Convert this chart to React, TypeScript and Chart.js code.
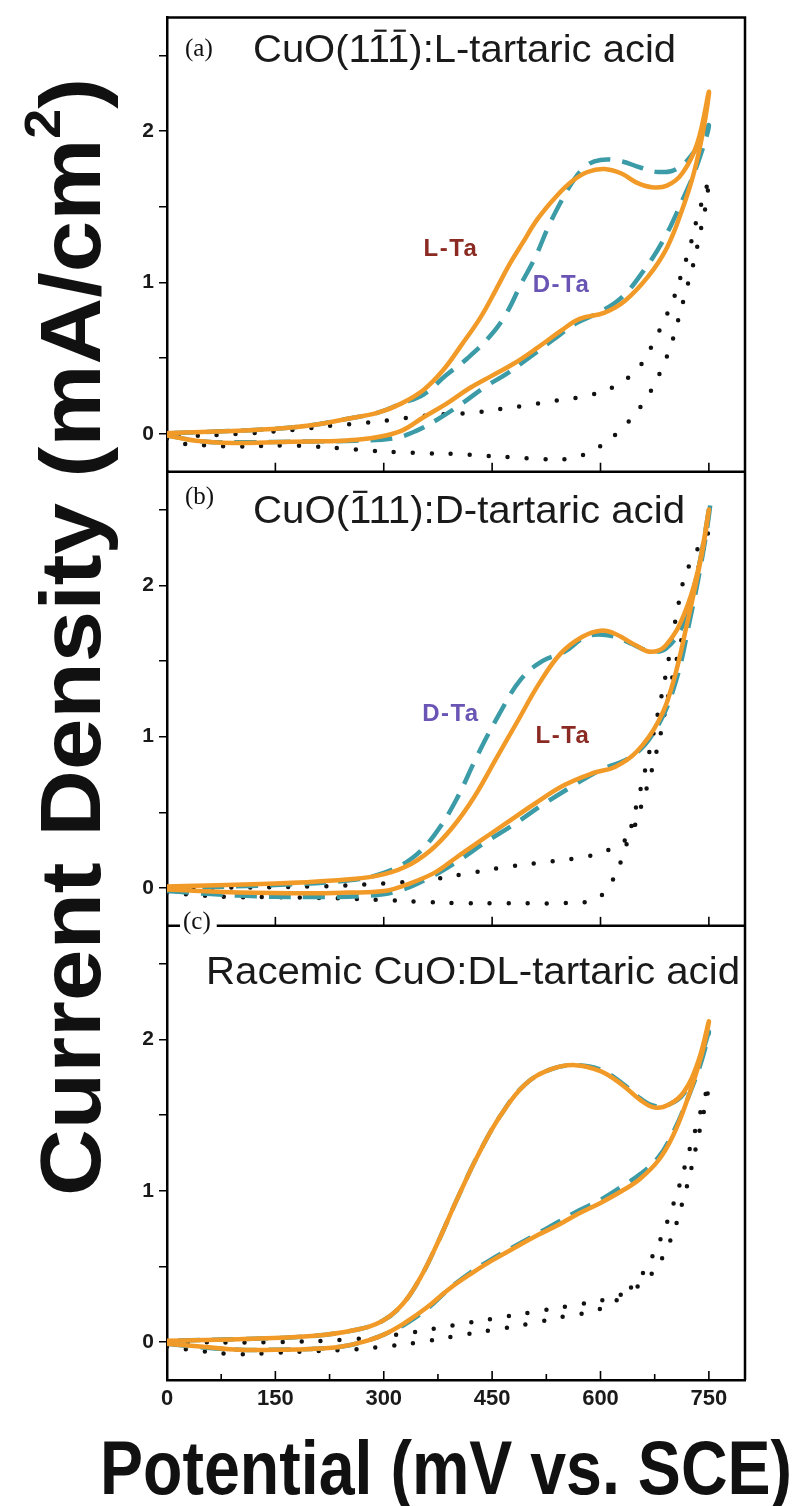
import React, { useEffect, useRef } from 'react';
import { Chart, registerables } from 'chart.js';

Chart.register(...registerables);

type Pt = [number, number];

// ---------- axis / label data ----------
const xTickValues = [0, 150, 300, 450, 600, 750];
const xMinorTickValues = [75, 225, 375, 525, 675];
const yTickValues = [0, 0.5, 1, 1.5, 2, 2.5];
const panelTitles = ['CuO(111):L-tartaric acid', 'CuO(111):D-tartaric acid', 'Racemic CuO:DL-tartaric acid'];
// indices of the Miller-index digits that carry an overbar
const titleBars: number[][] = [[5, 6], [4], []];
const panelTags = ['(a)', '(b)', '(c)'];
const xAxisTitle = 'Potential (mV vs. SCE)';
const yAxisTitle = 'Current Density (mA/cm';

// ---------- panel (a): CuO(1-1-1) ----------
const aLTa: Pt[] = [
  [0, -0.01], [40, -0.045], [90, -0.06], [145, -0.055], [200, -0.05], [250, -0.043],
  [290, -0.022], [325, 0.022], [355, 0.11], [387, 0.2], [418, 0.3], [450, 0.385],
  [482, 0.47], [513, 0.57], [545, 0.68], [571, 0.76], [605, 0.8], [634, 0.88],
  [666, 1.04], [692, 1.23], [713, 1.48], [729, 1.72], [742, 2.0], [750, 2.26],
  [734, 1.92], [713, 1.72], [692, 1.64], [671, 1.63], [650, 1.66], [629, 1.72],
  [605, 1.75], [582, 1.73], [561, 1.67], [539, 1.57], [513, 1.42], [492, 1.26],
  [474, 1.12], [455, 0.95], [434, 0.77], [408, 0.59], [382, 0.42], [355, 0.29],
  [324, 0.2], [292, 0.14], [250, 0.1], [197, 0.055], [145, 0.033], [66, 0.015], [0, 0.005],
];
const aDTa: Pt[] = [
  [0, -0.01], [50, -0.05], [100, -0.055], [200, -0.05], [260, -0.045], [313, -0.03],
  [345, 0.02], [376, 0.1], [408, 0.2], [440, 0.31], [471, 0.4], [503, 0.51],
  [534, 0.62], [566, 0.73], [597, 0.8], [629, 0.9], [660, 1.08], [687, 1.28],
  [713, 1.54], [734, 1.78], [750, 2.04],
  [729, 1.86], [705, 1.75], [680, 1.73], [655, 1.76], [629, 1.8], [600, 1.81],
  [580, 1.77], [562, 1.67], [546, 1.54], [528, 1.37], [510, 1.17], [490, 0.99],
  [469, 0.79], [446, 0.64], [416, 0.5], [387, 0.39], [355, 0.26], [324, 0.2],
  [292, 0.14], [250, 0.1], [197, 0.055], [145, 0.033], [66, 0.015], [0, 0.005],
];
const aBlank: Pt[] = [
  [0, -0.03], [24, -0.066], [63, -0.077], [100, -0.084], [163, -0.077], [203, -0.084],
  [242, -0.095], [279, -0.11], [318, -0.12], [358, -0.128], [397, -0.132], [434, -0.143],
  [474, -0.154], [513, -0.165], [553, -0.165], [591, -0.106], [629, 0.033], [660, 0.21],
  [682, 0.4], [697, 0.58], [708, 0.76], [718, 0.94], [729, 1.13], [737, 1.31],
  [745, 1.49], [750, 1.68],
  [745, 1.6], [734, 1.43], [724, 1.24], [713, 1.07], [700, 0.88], [676, 0.63],
  [653, 0.44], [618, 0.31], [579, 0.25], [539, 0.22], [500, 0.19], [463, 0.165],
  [424, 0.14], [384, 0.13], [347, 0.115], [308, 0.09], [268, 0.07], [229, 0.055],
  [189, 0.033], [100, 0.0], [0, -0.02],
];

// ---------- panel (b): CuO(-111) ----------
const bLTa: Pt[] = [
  [0, -0.01], [100, -0.03], [200, -0.035], [250, -0.03], [300, -0.02], [330, 0.02],
  [370, 0.1], [400, 0.2], [430, 0.3], [470, 0.43], [510, 0.56], [550, 0.68],
  [590, 0.76], [620, 0.8], [650, 0.9], [680, 1.1], [700, 1.35], [720, 1.75],
  [740, 2.2], [750, 2.5],
  [735, 2.1], [715, 1.8], [690, 1.6], [670, 1.56], [650, 1.6], [620, 1.68],
  [600, 1.7], [575, 1.66], [545, 1.55], [515, 1.35], [485, 1.1], [455, 0.85],
  [425, 0.6], [395, 0.4], [365, 0.25], [330, 0.14], [290, 0.08], [230, 0.05],
  [150, 0.03], [0, 0.01],
];
const bDTa: Pt[] = [
  [0, -0.02], [100, -0.05], [200, -0.06], [280, -0.05], [320, -0.02], [360, 0.06],
  [400, 0.17], [440, 0.3], [480, 0.42], [520, 0.55], [560, 0.67], [600, 0.78],
  [640, 0.86], [670, 1.0], [700, 1.3], [725, 1.8], [745, 2.3], [752, 2.55],
  [735, 2.1], [715, 1.75], [690, 1.58], [665, 1.57], [640, 1.62], [610, 1.67],
  [580, 1.66], [550, 1.56], [520, 1.5], [490, 1.38], [460, 1.15], [430, 0.88],
  [400, 0.58], [370, 0.35], [340, 0.2], [300, 0.1], [250, 0.05], [150, 0.02], [0, 0],
];
const bBlank: Pt[] = [
  [0, -0.03], [50, -0.05], [100, -0.06], [150, -0.06], [200, -0.065], [250, -0.07],
  [300, -0.08], [350, -0.09], [400, -0.1], [450, -0.1], [500, -0.1], [550, -0.1],
  [590, -0.08], [610, 0.0], [630, 0.2], [650, 0.55], [670, 0.95], [690, 1.4],
  [705, 1.8], [720, 2.1], [750, 2.35],
  [740, 2.2], [725, 1.9], [710, 1.6], [695, 1.3], [680, 0.95], [660, 0.6],
  [640, 0.35], [610, 0.25], [570, 0.2], [520, 0.17], [470, 0.14], [420, 0.1],
  [370, 0.06], [300, 0.03], [200, 0.01], [0, 0],
];

// ---------- panel (c): racemic CuO ----------
const cLTa: Pt[] = [
  [0, -0.01], [50, -0.03], [100, -0.05], [150, -0.05], [200, -0.045], [240, -0.03],
  [270, 0.0], [300, 0.05], [330, 0.13], [360, 0.23], [390, 0.35], [420, 0.45],
  [450, 0.54], [480, 0.62], [510, 0.7], [540, 0.77], [570, 0.85], [600, 0.92],
  [630, 1.0], [655, 1.08], [680, 1.2], [700, 1.36], [720, 1.6], [740, 1.9], [750, 2.12],
  [735, 1.85], [715, 1.65], [695, 1.57], [675, 1.55], [655, 1.6], [630, 1.7],
  [600, 1.79], [565, 1.83], [530, 1.8], [495, 1.7], [462, 1.5], [432, 1.25],
  [402, 0.95], [374, 0.65], [350, 0.42], [326, 0.25], [298, 0.14], [260, 0.08],
  [200, 0.04], [100, 0.02], [0, 0.01],
];
const cDTa: Pt[] = [
  [0, -0.01], [50, -0.035], [100, -0.05], [150, -0.05], [200, -0.045], [240, -0.03],
  [270, 0.0], [300, 0.05], [330, 0.12], [360, 0.22], [390, 0.35], [420, 0.46],
  [450, 0.55], [480, 0.63], [510, 0.71], [540, 0.79], [570, 0.87], [600, 0.94],
  [630, 1.03], [655, 1.11], [680, 1.22], [700, 1.38], [720, 1.6], [740, 1.86], [750, 2.05],
  [735, 1.83], [715, 1.64], [695, 1.57], [675, 1.56], [655, 1.61], [630, 1.71],
  [600, 1.8], [565, 1.83], [530, 1.8], [495, 1.7], [462, 1.5], [432, 1.25],
  [402, 0.95], [374, 0.65], [350, 0.42], [326, 0.25], [298, 0.14], [260, 0.08],
  [200, 0.04], [100, 0.02], [0, 0.01],
];
const cBlank: Pt[] = [
  [0, -0.03], [50, -0.06], [100, -0.08], [150, -0.07], [200, -0.06], [250, -0.05],
  [300, -0.03], [350, 0.0], [400, 0.04], [450, 0.08], [500, 0.12], [550, 0.17],
  [600, 0.22], [640, 0.35], [670, 0.55], [700, 0.9], [725, 1.3], [750, 1.7],
  [735, 1.35], [715, 0.95], [690, 0.6], [660, 0.4], [620, 0.3], [570, 0.25],
  [520, 0.21], [470, 0.17], [420, 0.13], [370, 0.09], [320, 0.05], [260, 0.02],
  [150, 0.0], [0, 0],
];

// labels placed in data coordinates: [panel, potential, current, text, colour]
const curveLabels: [number, number, number, string, string][] = [
  [0, 393, 1.22, 'L-Ta', '#8a2a22'],
  [0, 546, 0.98, 'D-Ta', '#6a55b5'],
  [1, 393, 1.15, 'D-Ta', '#6a55b5'],
  [1, 548, 1.0, 'L-Ta', '#8a2a22'],
];

const ORANGE = '#f29a27';
const TEAL = '#3b9ba6';
const BLACK = '#111111';
const AXES = ['yA', 'yB', 'yC'];

const SANS = '"Liberation Sans", Arial, sans-serif';
const NARROW = '"Liberation Sans Narrow", "Liberation Sans", Arial, sans-serif';
const SERIF = '"Liberation Serif", "Times New Roman", serif';

function toXY(p: Pt[]) {
  return p.map(([x, y]) => ({ x, y }));
}

function lineDs(label: string, pts: Pt[], axis: string, kind: 'solid' | 'dash' | 'dot') {
  const base: any = {
    label,
    data: toXY(pts),
    yAxisID: axis,
    xAxisID: 'x',
    showLine: true,
    pointRadius: 0,
    pointHoverRadius: 0,
    tension: 0.4,
    fill: false,
  };
  if (kind === 'solid') {
    return { ...base, borderColor: ORANGE, borderWidth: 4.5, order: 1 };
  }
  if (kind === 'dash') {
    return { ...base, borderColor: TEAL, borderWidth: 4.5, borderDash: [22, 12], order: 2 };
  }
  return {
    ...base,
    borderColor: BLACK,
    borderWidth: 4.5,
    borderDash: [0, 19],
    borderCapStyle: 'round',
    order: 3,
  };
}

function yScale() {
  return {
    type: 'linear',
    position: 'left',
    stack: 'cv',
    stackWeight: 1,
    min: -0.25,
    max: 2.75,
    offset: false,
    afterBuildTicks: (s: any) => {
      s.ticks = yTickValues.map((v) => ({ value: v }));
    },
    afterFit: (s: any) => {
      s.width = 167;
    },
    grid: {
      display: true,
      drawOnChartArea: false,
      drawTicks: true,
      tickLength: 8,
      color: '#000',
      lineWidth: 1.5,
    },
    border: { display: true, color: '#000', width: 2.5 },
    ticks: {
      padding: 5,
      color: '#1a1a1a',
      font: { family: SANS, size: 21, weight: 'bold' },
      callback: (v: any) => (Number.isInteger(v) ? String(v) : ''),
    },
  };
}

function fitText(
  ctx: CanvasRenderingContext2D,
  text: string,
  x: number,
  y: number,
  width: number,
  bars: number[] = [],
  barRise = 0
) {
  const w = ctx.measureText(text).width;
  ctx.save();
  ctx.translate(x, y);
  ctx.scale(width / w, 1);
  ctx.fillText(text, 0, 0);
  bars.forEach((i) => {
    const a = ctx.measureText(text.slice(0, i)).width;
    const b = ctx.measureText(text.slice(0, i + 1)).width;
    const pad = (b - a) * 0.18;
    ctx.fillRect(a + pad, -barRise, b - a - 2 * pad, 2.2);
  });
  ctx.restore();
}

const decorPlugin = {
  id: 'decor',
  afterDraw(chart: any) {
    const { ctx, chartArea, scales } = chart;
    const xs = scales.x;
    const L = chartArea.left;
    const R = chartArea.right;
    const panels = AXES.map((id) => scales[id]);
    ctx.save();
    ctx.strokeStyle = '#000';
    ctx.lineCap = 'butt';

    // inward x tick marks at the foot of every panel
    ctx.lineWidth = 1.6;
    panels.forEach((p: any, i: number) => {
      xTickValues.forEach((v) => {
        if (v === 0) return;
        const px = xs.getPixelForValue(v);
        ctx.beginPath();
        ctx.moveTo(px, p.bottom);
        ctx.lineTo(px, p.bottom - 9);
        ctx.stroke();
      });
      if (i === panels.length - 1) {
        xMinorTickValues.forEach((v) => {
          const px = xs.getPixelForValue(v);
          ctx.beginPath();
          ctx.moveTo(px, p.bottom);
          ctx.lineTo(px, p.bottom - 6);
          ctx.stroke();
        });
      }
    });

    // frames
    ctx.lineWidth = 2.5;
    ctx.beginPath();
    ctx.moveTo(L, panels[0].top);
    ctx.lineTo(R, panels[0].top);
    ctx.lineTo(R, panels[2].bottom);
    ctx.stroke();
    [panels[0].bottom, panels[1].bottom].forEach((yb: number) => {
      ctx.beginPath();
      ctx.moveTo(L, yb);
      ctx.lineTo(R, yb);
      ctx.stroke();
    });

    // panel tags and titles
    ctx.fillStyle = '#111';
    ctx.textBaseline = 'alphabetic';
    ctx.textAlign = 'left';
    ctx.font = `25px ${SERIF}`;
    const tagPos: [number, number][] = [
      [185, panels[0].top + 38],
      [185, panels[1].top + 32],
      [183, panels[2].top + 3],
    ];
    panelTags.forEach((t, i) => {
      const [tx, ty] = tagPos[i];
      if (i === 2) {
        const w = ctx.measureText(t).width;
        ctx.fillStyle = '#fff';
        ctx.fillRect(tx - 3, ty - 20, w + 9, 26);
        ctx.fillStyle = '#111';
      }
      ctx.fillText(t, tx, ty);
    });

    ctx.fillStyle = '#1a1a1a';
    ctx.font = `39px ${SANS}`;
    const titlePos: [number, number, number][] = [
      [253, panels[0].top + 44, 423],
      [253, panels[1].top + 51, 432],
      [206, panels[2].top + 58, 534],
    ];
    panelTitles.forEach((t, i) => {
      const [tx, ty, tw] = titlePos[i];
      fitText(ctx, t, tx, ty, tw, titleBars[i], 32);
    });

    // curve labels
    ctx.font = `bold 24px ${SANS}`;
    (ctx as any).letterSpacing = '1.5px';
    ctx.textAlign = 'center';
    ctx.textBaseline = 'middle';
    curveLabels.forEach(([pi, xv, yv, txt, col]) => {
      ctx.fillStyle = col;
      const px = xs.getPixelForValue(xv);
      const py = panels[pi].getPixelForValue(yv);
      ctx.fillText(txt, px, py);
    });
    (ctx as any).letterSpacing = '0px';

    // x axis title
    ctx.fillStyle = '#111';
    ctx.textAlign = 'left';
    ctx.textBaseline = 'alphabetic';
    ctx.font = `bold 76px ${NARROW}`;
    fitText(ctx, xAxisTitle, 100, 1494, 692);

    // y axis title (rotated)
    ctx.save();
    ctx.translate(100, 1196);
    ctx.rotate(-Math.PI / 2);
    const big = `bold 86px ${NARROW}`;
    const sup = `bold 50px ${NARROW}`;
    ctx.font = big;
    const w1 = ctx.measureText(yAxisTitle).width;
    ctx.font = sup;
    const w2 = ctx.measureText('2').width;
    ctx.font = big;
    const w3 = ctx.measureText(')').width;
    const total = w1 + w2 + w3;
    const sx = 1118 / total;
    ctx.scale(sx, 1);
    ctx.font = big;
    ctx.fillText(yAxisTitle, 0, 0);
    ctx.font = sup;
    ctx.fillText('2', w1, -40);
    ctx.font = big;
    ctx.fillText(')', w1 + w2, 0);
    ctx.restore();

    ctx.restore();
  },
};

export default function App() {
  const ref = useRef<HTMLCanvasElement | null>(null);
  useEffect(() => {
    if (!ref.current) return;
    const datasets = [
      lineDs('(a) blank', aBlank, 'yA', 'dot'),
      lineDs('(a) D-Ta', aDTa, 'yA', 'dash'),
      lineDs('(a) L-Ta', aLTa, 'yA', 'solid'),
      lineDs('(b) blank', bBlank, 'yB', 'dot'),
      lineDs('(b) D-Ta', bDTa, 'yB', 'dash'),
      lineDs('(b) L-Ta', bLTa, 'yB', 'solid'),
      lineDs('(c) blank', cBlank, 'yC', 'dot'),
      lineDs('(c) D-Ta', cDTa, 'yC', 'dash'),
      lineDs('(c) L-Ta', cLTa, 'yC', 'solid'),
    ];
    const chart = new Chart(ref.current, {
      type: 'scatter',
      data: { datasets } as any,
      options: {
        responsive: false,
        animation: false,
        events: [],
        layout: { padding: { left: 0, right: 58, top: 14, bottom: 86 } },
        plugins: {
          legend: { display: false },
          tooltip: { enabled: false },
          title: { display: false },
        },
        scales: {
          x: {
            type: 'linear',
            position: 'bottom',
            min: 0,
            max: 800,
            afterBuildTicks: (s: any) => {
              s.ticks = xTickValues.map((v) => ({ value: v }));
            },
            afterFit: (s: any) => {
              s.height = 40;
            },
            grid: { display: false, drawTicks: false },
            border: { display: true, color: '#000', width: 2.5 },
            ticks: {
              padding: 6,
              maxRotation: 0,
              autoSkip: false,
              color: '#1a1a1a',
              font: { family: SANS, size: 22, weight: 'bold' },
            },
          },
          yC: yScale(),
          yB: yScale(),
          yA: yScale(),
        } as any,
      },
      plugins: [decorPlugin],
    });
    return () => chart.destroy();
  }, []);
  return (
    <div style={{ position: 'absolute', left: 0, top: 0, width: 803, height: 1506, background: '#fff' }}>
      <canvas ref={ref} width={803} height={1506} style={{ display: 'block', width: 803, height: 1506 }} />
    </div>
  );
}
